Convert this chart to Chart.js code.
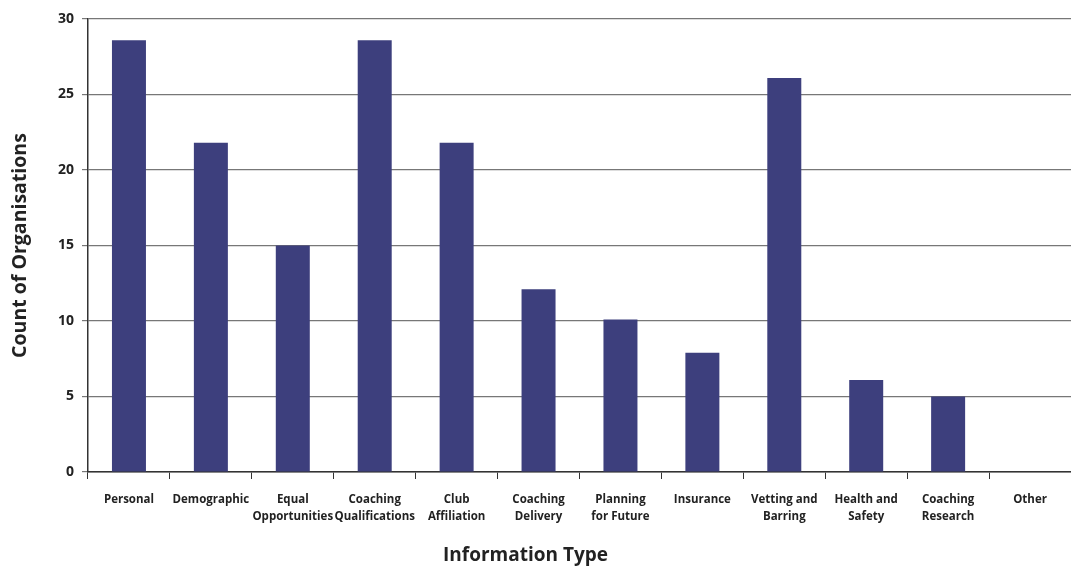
<!DOCTYPE html>
<html>
<head>
<meta charset="utf-8">
<script src="https://cdn.jsdelivr.net/npm/chart.js@4/dist/chart.umd.min.js"></script>
<style>
  html, body { margin: 0; padding: 0; background: #fff; }
  #wrap { width: 1071px; height: 566px; }
</style>
</head>
<body>
<div id="wrap"><canvas id="chart" width="1071" height="566"></canvas></div>
<script>
// Categorias (rótulos do eixo x, em duas linhas quando necessário)
const categorias = [
  "Personal", "Demographic", ["Equal", "Opportunities"], ["Coaching", "Qualifications"],
  ["Club", "Affiliation"], ["Coaching", "Delivery"], ["Planning", "for Future"], "Insurance",
  ["Vetting and", "Barring"], ["Health and", "Safety"], ["Coaching", "Research"], "Other"
];

// Valores
const contagens = [28.6, 21.8, 15, 28.6, 21.8, 12.1, 10.1, 7.9, 26.1, 6.1, 5, 0];

const tituloX = "Information Type";
const tituloY = "Count of Organisations";

const fonte = "'Open Sans', 'DejaVu Sans', sans-serif";

// Título do eixo x centrado na largura total, como no original
const tituloInferior = {
  id: "tituloInferior",
  afterDraw(c) {
    const ctx = c.ctx;
    ctx.save();
    ctx.font = "bold 19px " + fonte;
    ctx.fillStyle = "#222";
    ctx.textAlign = "center";
    ctx.textBaseline = "middle";
    ctx.fillText(tituloX, c.width / 2 - 10, 556);
    ctx.restore();
  }
};

const chart = new Chart(document.getElementById("chart"), {
  type: "bar",
  data: {
    labels: categorias,
    datasets: [{
      label: tituloY,
      data: contagens,
      backgroundColor: "#3d3f7d",
      categoryPercentage: 1,
      barPercentage: 0.415
    }]
  },
  options: {
    responsive: false,
    animation: false,
    layout: { padding: { top: 19, right: 0, left: 0, bottom: 0 } },
    plugins: { legend: { display: false }, tooltip: { enabled: false } },
    scales: {
      x: {
        offset: true,
        afterFit: s => { s.height = 94; },
        border: { color: "#333", width: 1.5 },
        grid: { offset: true, drawOnChartArea: false, tickLength: 7, color: "#333" },
        ticks: { color: "#222", font: { family: fonte, size: 11.5, weight: "bold", lineHeight: 1.5 }, padding: 12, maxRotation: 0, autoSkip: false }
      },
      y: {
        min: 0, max: 30,
        afterFit: s => { s.width = 88; },
        border: { color: "#333", width: 1.5 },
        grid: { color: "#777", lineWidth: 1.2, tickLength: 6 },
        ticks: { stepSize: 5, color: "#222", font: { family: fonte, size: 14, weight: "bold" }, padding: 8 },
        title: { display: true, text: tituloY, color: "#222", font: { family: fonte, size: 19.5, weight: "bold" }, padding: { top: 9, bottom: 0 } }
      }
    }
  },
  plugins: [tituloInferior]
});
</script>
</body>
</html>
